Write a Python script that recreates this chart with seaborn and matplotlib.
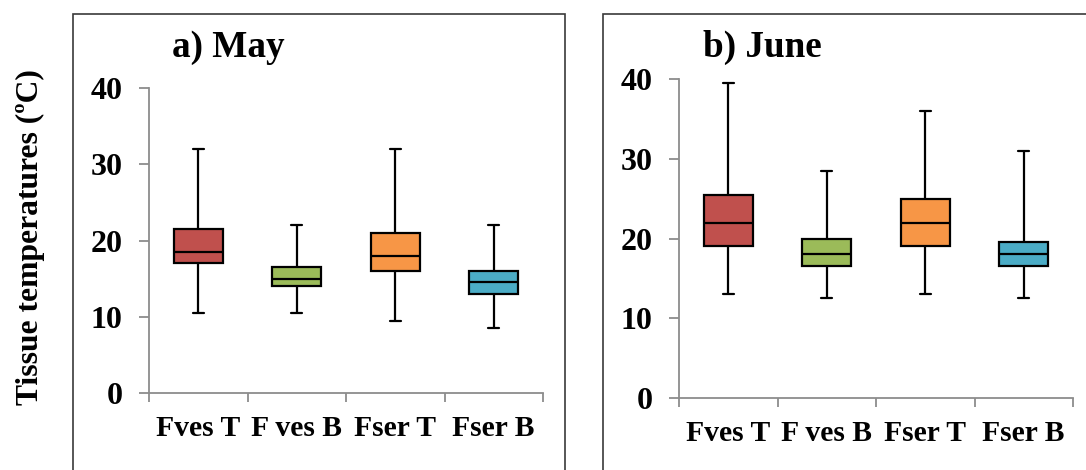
import matplotlib
matplotlib.use("Agg")
import matplotlib.pyplot as plt
from matplotlib.patches import Rectangle
import seaborn as sns
import pandas as pd

categories = ["Fves T", "F ves B", "Fser T", "Fser B"]
colors = ["#C0504D", "#9BBB59", "#F79646", "#4BACC6"]

# May: five-number summaries (min, Q1, median, Q3, max)
may_min = [10.5, 10.5, 9.5, 8.5]
may_q1 = [17.0, 14.0, 16.0, 13.0]
may_med = [18.5, 15.0, 18.0, 14.5]
may_q3 = [21.5, 16.5, 21.0, 16.0]
may_max = [32.0, 22.0, 32.0, 22.0]

# June
jun_min = [13.0, 12.5, 13.0, 12.5]
jun_q1 = [19.0, 16.5, 19.0, 16.5]
jun_med = [22.0, 18.0, 22.0, 18.0]
jun_q3 = [25.5, 20.0, 25.0, 19.5]
jun_max = [39.5, 28.5, 36.0, 31.0]

titles = ["a) May", "b) June"]
ylabel = "Tissue temperatures (ºC)"
yticks = [0, 10, 20, 30, 40]


def long_df(mn, q1, md, q3, mx):
    rows = []
    for i, c in enumerate(categories):
        for v in (mn[i], q1[i], md[i], q3[i], mx[i]):
            rows.append({"cat": c, "val": v})
    return pd.DataFrame(rows)


sns.set_theme(style="white")
plt.rcParams["font.family"] = ["Liberation Serif", "DejaVu Serif"]
plt.rcParams["font.weight"] = "bold"
plt.rcParams["text.color"] = "black"
plt.rcParams["xtick.labelcolor"] = "black"
plt.rcParams["ytick.labelcolor"] = "black"

W, H = 1086, 470
fig = plt.figure(figsize=(W / 100, H / 100), dpi=100)

axes_px = [(149, 543, 88, 393), (679, 1073, 79, 398)]
dfs = [long_df(may_min, may_q1, may_med, may_q3, may_max),
       long_df(jun_min, jun_q1, jun_med, jun_q3, jun_max)]
gray = "#8C8C8C"

for (x0, x1, ytop, ybot), df in zip(axes_px, dfs):
    ax = fig.add_axes([x0 / W, (H - ybot) / H, (x1 - x0) / W, (ybot - ytop) / H])
    sns.boxplot(data=df, x="cat", y="val", hue="cat", order=categories,
                hue_order=categories, palette=colors, whis=(0, 100),
                width=0.5, linewidth=1.6, linecolor="black", legend=False,
                saturation=1, ax=ax, capwidths=0.11)
    ax.set_xlim(-0.5, 3.5)
    ax.set_ylim(0, 40)
    ax.set_xlabel("")
    ax.set_ylabel("")
    for s in ("top", "right"):
        ax.spines[s].set_visible(False)
    for s in ("left", "bottom"):
        ax.spines[s].set_color(gray)
        ax.spines[s].set_linewidth(1.3)
    ax.set_yticks(yticks)
    ax.set_yticklabels([str(t) for t in yticks], fontsize=23, fontweight="bold",
                       color="black")
    ax.tick_params(axis="y", direction="out", length=7, width=1.3, color=gray,
                   pad=12, left=True)
    ax.set_xticks([-0.5, 0.5, 1.5, 2.5, 3.5])
    ax.set_xticklabels([])
    ax.tick_params(axis="x", which="major", direction="out", length=6.5,
                   width=1.3, color=gray, bottom=True)
    ax.set_xticks(range(4), minor=True)
    ax.set_xticklabels(categories, minor=True, fontsize=21.3, fontweight="bold",
                       color="black")
    ax.tick_params(axis="x", which="minor", length=0, pad=16)

fig.text(172 / W, (H - 57) / H, titles[0], fontsize=26.7, fontweight="bold",
         va="baseline", ha="left", color="black")
fig.text(703 / W, (H - 57) / H, titles[1], fontsize=26.7, fontweight="bold",
         va="baseline", ha="left", color="black")
fig.text(30 / W, (H - 237) / H, ylabel, rotation=90, fontsize=22.8,
         fontweight="bold", ha="center", va="center", color="black")

frame_col = "#3A3A3A"
fig.add_artist(Rectangle((73 / W, -0.1), (565 - 73) / W, 1.1 - 14 / H,
                         transform=fig.transFigure, fill=False,
                         edgecolor=frame_col, linewidth=1.2))
fig.add_artist(Rectangle((603 / W, -0.1), 0.5, 1.1 - 14 / H,
                         transform=fig.transFigure, fill=False,
                         edgecolor=frame_col, linewidth=1.2))

fig.savefig("out.png", dpi=100)
